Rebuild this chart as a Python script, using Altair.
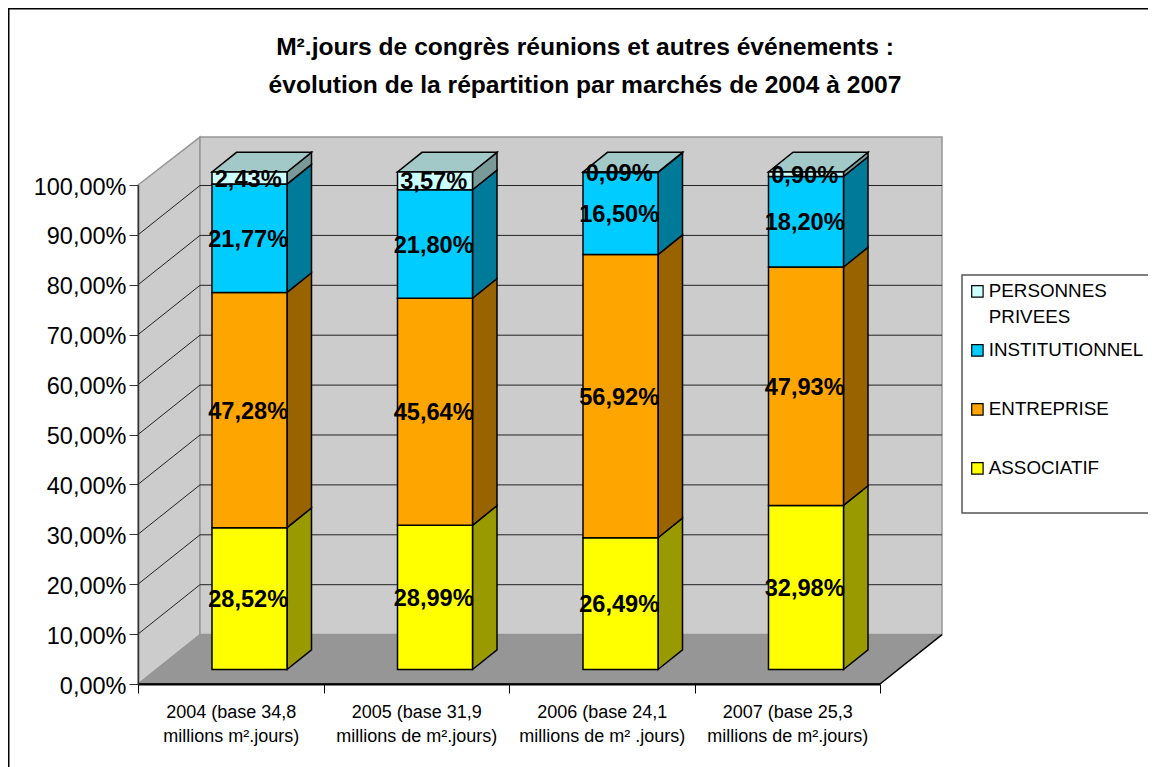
import altair as alt
import pandas as pd

TITLE = ["M².jours de congrès réunions et autres événements :",
         "évolution de la répartition par marchés de 2004 à 2007"]
CATEGORIES = [["2004 (base 34,8", "millions m².jours)"],
              ["2005 (base 31,9", "millions de m².jours)"],
              ["2006 (base 24,1", "millions de m² .jours)"],
              ["2007 (base 25,3", "millions de m².jours)"]]
MARKETS = ["ASSOCIATIF", "ENTREPRISE", "INSTITUTIONNEL", "PERSONNES PRIVEES"]
ASSOCIATIF = [28.52, 28.99, 26.49, 32.98]
ENTREPRISE = [47.28, 45.64, 56.92, 47.93]
INSTITUTIONNEL = [21.77, 21.80, 16.50, 18.20]
PRIVEES = [2.43, 3.57, 0.09, 0.90]
SERIES = [ASSOCIATIF, ENTREPRISE, INSTITUTIONNEL, PRIVEES]
FRONT = ["#FFFF00", "#FFA500", "#00CCFF", "#CCFFFF"]
SIDE = ["#999900", "#996300", "#007A99", "#7A9999"]
TOP = "#A3C8C8"
WALL = "#CCCCCC"
FLOOR = "#969696"

PW, PH = 742, 499
WDX, WDY = 62 / 185.5, 9.9      # depth of the box
WTOP = 100 + WDY - 0.3          # top edge of the back wall
BDX, BDY = 24.5 / 185.5, 3.95   # depth of a bar
BX, BW, BY = 74 / 185.5, 75 / 185.5, 2.9  # bar offset, width, base
YK = 0.997                       # bar height per percent


def face(rows, name, fill, stroke, sw):
    return [dict(x=x, y=a, y2=b, face=name, fill=fill, stroke=stroke, sw=sw) for x, a, b in rows]


box = []
box += face([(0, 0, 100), (WDX, WDY, WTOP)], "a_left", WALL, "#969696", 1.5)
box += face([(WDX, WDY, WTOP), (4 + WDX, WDY, WTOP)], "b_back", WALL, "#969696", 1.5)
box += face([(0, 0, 0), (WDX, 0, WDY), (4, 0, WDY), (4 + WDX, WDY, WDY)], "c_floor", FLOOR, FLOOR, 0.5)

faces, fronts, labels = [], [], []
for i in range(4):
    x0 = i + BX
    x1 = x0 + BW
    base = 0.0
    for s, vals in enumerate(SERIES):
        v = vals[i]
        b, t = BY + base * YK, BY + (base + v) * YK
        faces += face([(x1, b, t), (x1 + BDX, b + BDY, t + BDY)], f"s{i}{s}", SIDE[s], "black", 1.5)
        fronts.append(dict(x=x0, x2=x1, y=b, y2=t, market=MARKETS[s]))
        labels.append(dict(x=(x0 + x1) / 2 - 0.007, y=(b + t) / 2,
                           text=f"{v:.2f}".replace(".", ",") + "%"))
        base += v
    faces += face([(x0, t, t), (x0 + BDX, t, t + BDY), (x1, t, t + BDY), (x1 + BDX, t + BDY, t + BDY)],
                  f"t{i}", TOP, "black", 1.5)

grid = pd.DataFrame([dict(v=v) for v in range(10, 100, 10)])
grid["yb"] = grid.v + WDY
grid["x0"], grid["xb"], grid["xe"] = 0.0, WDX, 4 + WDX

xs = alt.Scale(domain=[0, 4], range=[0, PW], nice=False, zero=False)
ys = alt.Scale(domain=[0, 100], range=[PH, 0], nice=False, zero=False)
X = lambda f="x": alt.X(f"{f}:Q", scale=xs, title=None)
Y = lambda f="y": alt.Y(f"{f}:Q", scale=ys, title=None, stack=None)

lab_expr = "".join(
    f"datum.value == {i + 0.5} ? {c!r} : " for i, c in enumerate(CATEGORIES)) + "''"
one = pd.DataFrame({"k": [0]})
frame = alt.Chart(one).mark_rect(
    fill="transparent", stroke="black", strokeWidth=2
).encode(x=alt.value(-129.5), x2=alt.value(1100), y=alt.value(-176.5), y2=alt.value(700))
legend_box = alt.Chart(one).mark_rect(
    fill="white", stroke="#555555", strokeWidth=1.5
).encode(x=alt.value(824), x2=alt.value(1100), y=alt.value(90), y2=alt.value(328))


def area(df):
    return alt.Chart(pd.DataFrame(df)).mark_area(clip=False, interpolate="linear").encode(
        x=X(), y=Y(), y2="y2:Q", detail="face:N",
        fill=alt.Fill("fill:N", scale=None, legend=None),
        stroke=alt.Stroke("stroke:N", scale=None, legend=None),
        strokeWidth=alt.StrokeWidth("sw:Q", scale=None, legend=None),
    )


axes = alt.Chart(pd.DataFrame({"x": [0.0], "y": [0.0]})).mark_point(opacity=0).encode(
    x=alt.X("x:Q", scale=xs, title=None, axis=alt.Axis(
        values=[i / 2 for i in range(9)], labelExpr=lab_expr, labelOverlap=False, zindex=1,
        labelFontSize=18, labelLineHeight=24, labelColor="black", labelPadding=10.5, labelFlush=False,
        domainColor="black", domainWidth=2, tickColor="black", tickSize=9, grid=False,
        tickOpacity={"condition": {"test": "datum.value % 1 == 0", "value": 1}, "value": 0})),
    y=alt.Y("y:Q", scale=ys, title=None, axis=alt.Axis(
        values=list(range(0, 101, 10)), grid=False, zindex=1,
        labelExpr="replace(format(datum.value, '.2f'), '.', ',') + '%'",
        labelFontSize=23.5, labelColor="black", labelPadding=3, labelOffset=2,
        labelOverlap=False, labelFlush=False,
        domainColor="#333333", domainWidth=1.5, tickColor="#333333", tickSize=9)),
)

grid_left = alt.Chart(grid).mark_rule(color="#222222", strokeWidth=1).encode(
    x=X("x0"), x2="xb:Q", y=Y("v"), y2="yb:Q")
grid_back = alt.Chart(grid).mark_rule(color="#222222", strokeWidth=1).encode(
    x=X("xb"), x2="xe:Q", y=Y("yb"))

floor_edge = pd.DataFrame([dict(x=0.0, x2=4.0, y=0.0, y2=0.0), dict(x=4.0, x2=4 + WDX, y=0.0, y2=WDY)])
edges = alt.Chart(floor_edge).mark_rule(color="black", strokeWidth=1.5).encode(
    x=X(), x2="x2:Q", y=Y(), y2="y2:Q")

bars = alt.Chart(pd.DataFrame(fronts)).mark_rect(stroke="black", strokeWidth=1.5).encode(
    x=X(), x2="x2:Q", y=Y(), y2="y2:Q",
    fill=alt.Fill("market:N", scale=alt.Scale(domain=MARKETS[::-1], range=FRONT[::-1]),
                  sort=MARKETS[::-1],
                  legend=alt.Legend(
                      title=None, orient="none", legendX=824, legendY=91,
                      symbolType="square", symbolSize=130, symbolStrokeColor="black", symbolStrokeWidth=1.2,
                      labelFontSize=18.8, labelColor="black", labelLimit=400, labelOffset=2,
                      labelExpr="datum.label == 'PERSONNES PRIVEES' ? ['PERSONNES', 'PRIVEES'] : datum.label",
                      rowPadding=13, gridAlign="all", padding=6)),
)

text = alt.Chart(pd.DataFrame(labels)).mark_text(
    fontSize=23.6, fontWeight="bold", color="black", baseline="middle", dy=1.5
).encode(x=X(), y=Y(), text="text:N")

chart = alt.layer(axes, frame, legend_box, area(box), grid_left, grid_back, edges, area(faces), bars, text).resolve_scale(
    fill="independent", stroke="independent", strokeWidth="independent"
).properties(
    width=PW, height=PH,
    title=alt.TitleParams(text=TITLE, anchor="middle", dx=76, offset=-91, fontSize=24.6,
                          fontWeight="bold", color="black", lineHeight=38),
    padding={"left": 130, "top": 177, "right": 268, "bottom": 83},
    autosize=alt.AutoSizeParams(type="none"),
).configure(font="Liberation Sans", style={"guide-label": {"lineHeight": 26}}).configure_view(stroke=None)

chart.save("out.html", embed_options={"renderer": "svg", "actions": False})
